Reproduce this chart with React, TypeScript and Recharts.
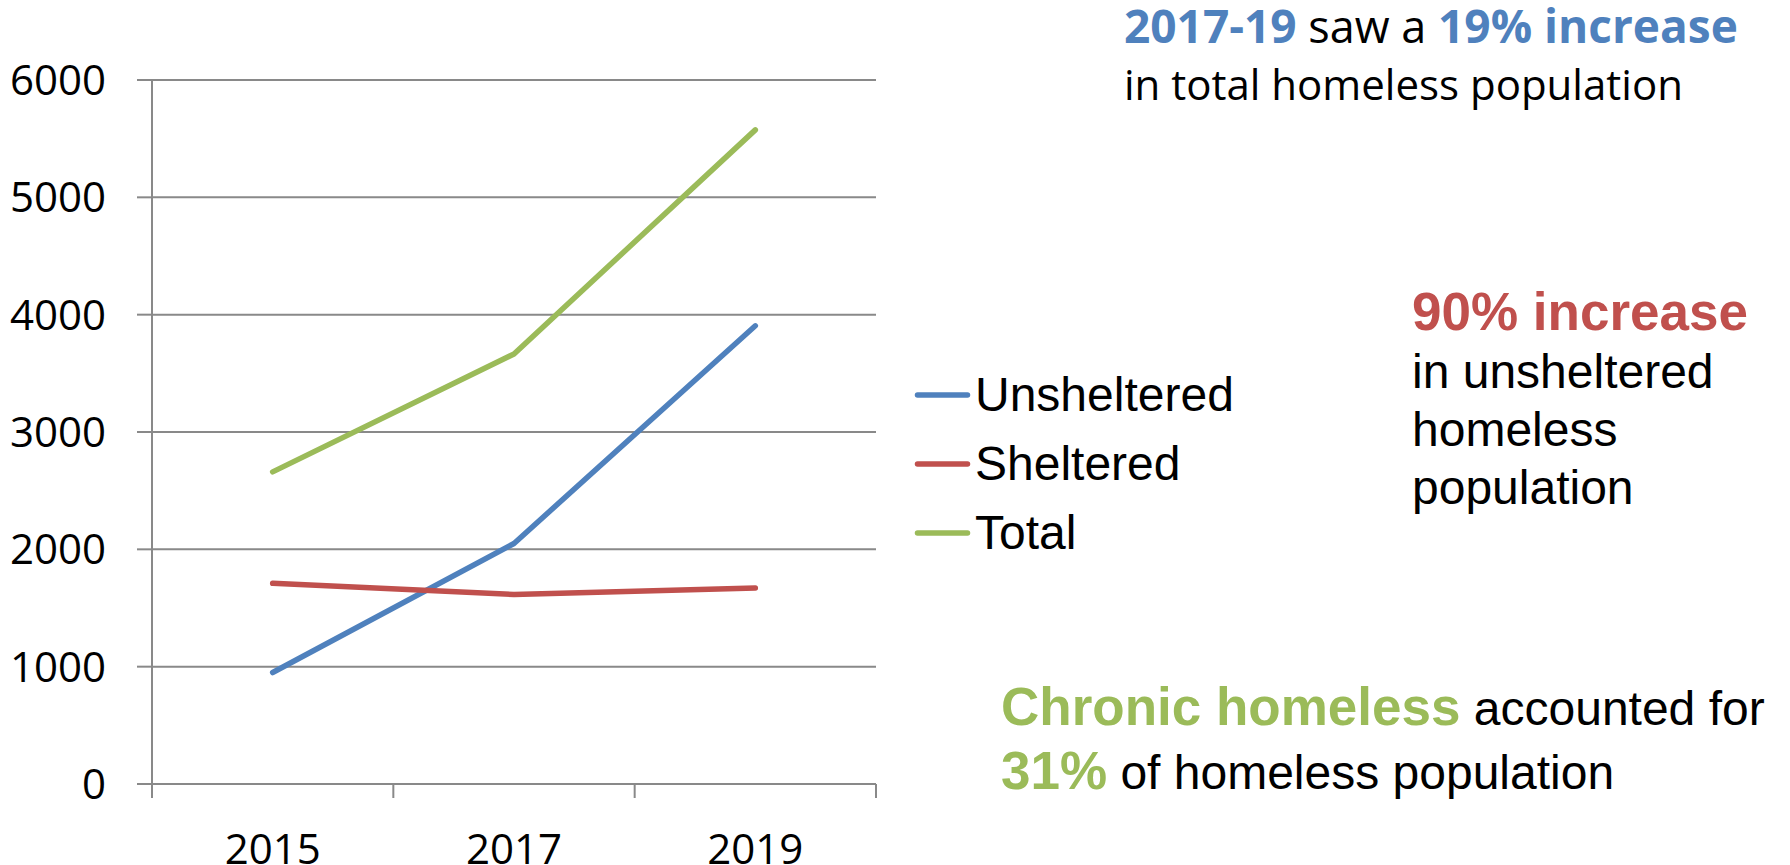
import React from 'react';
import { LineChart, Line, XAxis, YAxis, CartesianGrid, Legend } from 'recharts';

const years = ['2015', '2017', '2019'];
const unsheltered = [950, 2050, 3905];
const sheltered = [1710, 1615, 1670];
const total = [2660, 3665, 5575];
const yTicks = [0, 1000, 2000, 3000, 4000, 5000, 6000];
const seriesNames = ['Unsheltered', 'Sheltered', 'Total'];

const BLUE = '#4F81BD';
const RED = '#C0504D';
const GREEN = '#9BBB59';
const GRID = '#898989';
const X_TICK_MARGIN = 50;
const X_TICK_LEN = 14;

const data = years.map((y, i) => ({
  year: y,
  Unsheltered: unsheltered[i],
  Sheltered: sheltered[i],
  Total: total[i],
}));

const renderLegend = (props: any) => {
  const payload = [...(props.payload || [])].sort(
    (a: any, b: any) => seriesNames.indexOf(a.value) - seriesNames.indexOf(b.value)
  );
  return (
    <div style={{ fontFamily: '"Liberation Sans", Arial, sans-serif', fontSize: 48, color: '#000' }}>
      {payload.map((e: any) => (
        <div key={e.value} style={{ display: 'flex', alignItems: 'center', height: 69 }}>
          <svg width={63} height={10} style={{ display: 'block' }}>
            <line x1={5.5} y1={5} x2={55.5} y2={5} stroke={e.color} strokeWidth={5.5} strokeLinecap="round" />
          </svg>
          <span style={{ lineHeight: '69px', whiteSpace: 'nowrap' }}>{e.value}</span>
        </div>
      ))}
    </div>
  );
};

const XTick = (props: any) => {
  const { x, y, payload, index, visibleTicksCount, width } = props;
  const half = payload && payload.offset ? payload.offset : width / visibleTicksCount / 2;
  const top = y - X_TICK_MARGIN;
  const marks = [x - half];
  if (index === visibleTicksCount - 1) marks.push(x + half);
  return (
    <g>
      {marks.map((lx, i) => (
        <line key={i} x1={lx} x2={lx} y1={top} y2={top + X_TICK_LEN} stroke={GRID} strokeWidth={2} />
      ))}
      <text
        x={x}
        y={y}
        dy="0.71em"
        textAnchor="middle"
        style={{ fontFamily: '"Open Sans", sans-serif', fontSize: 42 }}
        fill="#000"
      >
        {payload.value}
      </text>
    </g>
  );
};

export default function App() {
  const tickFont = { fontFamily: '"Open Sans", sans-serif', fontSize: 42, fill: '#000' };
  return (
    <div style={{ position: 'absolute', left: 0, top: 0, width: 1790, height: 865, background: '#fff' }}>
      <LineChart
        width={1790}
        height={865}
        data={data}
        margin={{ top: 80, right: 914, bottom: 0, left: 0 }}
      >
        <CartesianGrid horizontal={true} vertical={false} stroke={GRID} strokeWidth={2} />
        <XAxis
          dataKey="year"
          scale="band"
          tickLine={false}
          tickSize={0}
          tickMargin={X_TICK_MARGIN}
          axisLine={{ stroke: GRID, strokeWidth: 2 }}
          tick={<XTick />}
          interval={0}
          height={81}
        />
        <YAxis
          width={152}
          domain={[0, 6000]}
          ticks={yTicks}
          interval={0}
          tickSize={15}
          tickMargin={31}
          tickLine={{ stroke: GRID, strokeWidth: 2 }}
          axisLine={{ stroke: GRID, strokeWidth: 2 }}
          tick={tickFont}
        />
        <Line dataKey="Unsheltered" stroke={BLUE} strokeWidth={5.5} dot={false} isAnimationActive={false} strokeLinecap="round" strokeLinejoin="round" />
        <Line dataKey="Sheltered" stroke={RED} strokeWidth={5.5} dot={false} isAnimationActive={false} strokeLinecap="round" strokeLinejoin="round" />
        <Line dataKey="Total" stroke={GREEN} strokeWidth={5.5} dot={false} isAnimationActive={false} strokeLinecap="round" strokeLinejoin="round" />
        <Legend
          layout="horizontal"
          align="center"
          verticalAlign="middle"
          content={renderLegend}
          wrapperStyle={{ left: 912, top: 360, width: 420, height: 210 }}
        />
      </LineChart>
      <svg width={1790} height={865} style={{ position: 'absolute', left: 0, top: 0, pointerEvents: 'none' }}>
        <text x={1124} y={43} style={{ fontFamily: '"Open Sans", sans-serif', fontSize: 45 }} fill="#000">
          <tspan fill={BLUE} fontWeight="bold" fontSize={46}>2017-19</tspan>
          <tspan> saw a </tspan>
          <tspan fill={BLUE} fontWeight="bold" fontSize={46}>19% increase</tspan>
        </text>
        <text x={1124} y={100} style={{ fontFamily: '"Open Sans", sans-serif', fontSize: 42 }} fill="#000">
          in total homeless population
        </text>
        <text x={1412} y={330} style={{ fontFamily: '"Liberation Sans", Arial, sans-serif', fontSize: 53, fontWeight: 'bold' }} fill={RED}>
          90% increase
        </text>
        <g style={{ fontFamily: '"Liberation Sans", Arial, sans-serif', fontSize: 48 }} fill="#000">
          <text x={1412} y={388}>in unsheltered</text>
          <text x={1412} y={446}>homeless</text>
          <text x={1412} y={504}>population</text>
        </g>
        <g style={{ fontFamily: '"Liberation Sans", Arial, sans-serif', fontSize: 48 }} fill="#000">
          <text x={1001} y={725}>
            <tspan fill={GREEN} fontWeight="bold" fontSize={53}>Chronic homeless</tspan>
            <tspan> accounted for</tspan>
          </text>
          <text x={1001} y={789}>
            <tspan fill={GREEN} fontWeight="bold" fontSize={53}>31%</tspan>
            <tspan> of homeless population</tspan>
          </text>
        </g>
      </svg>
    </div>
  );
}
